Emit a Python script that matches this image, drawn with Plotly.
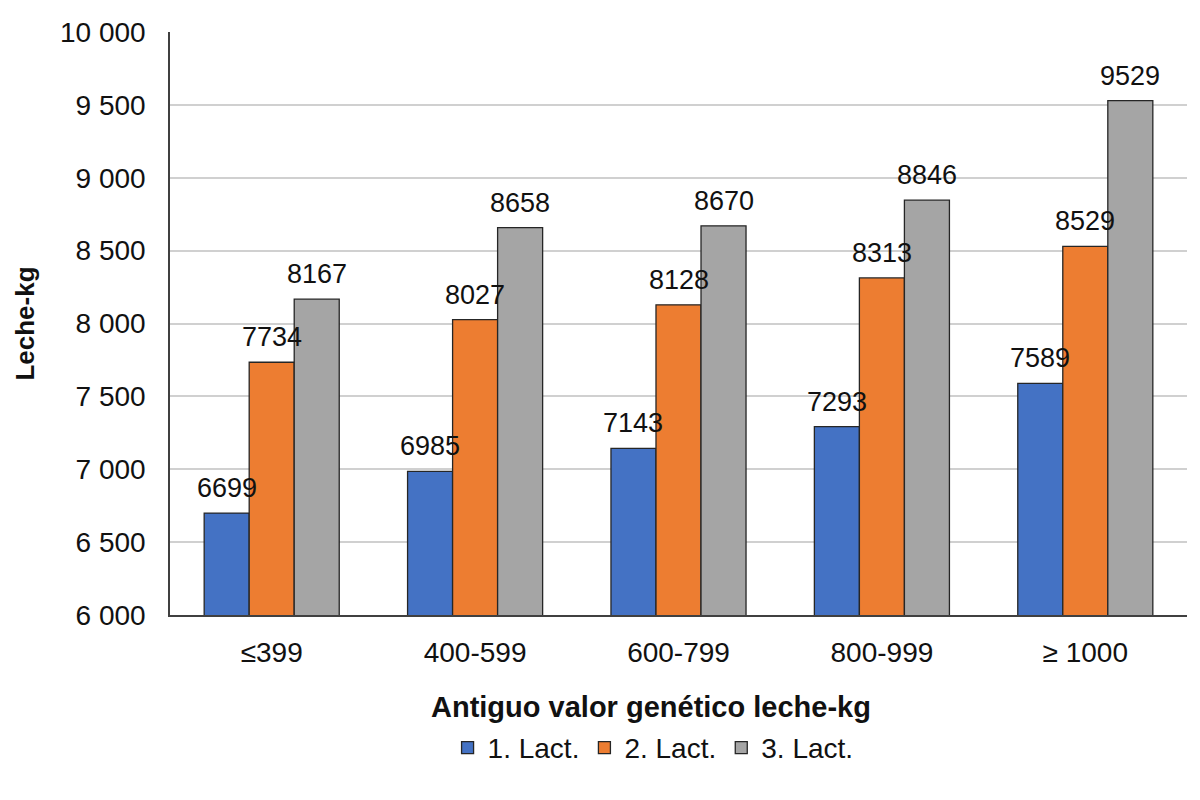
import plotly.graph_objects as go

categories = ["≤399", "400-599", "600-799", "800-999", "≥ 1000"]
lact1 = [6699, 6985, 7143, 7293, 7589]
lact2 = [7734, 8027, 8128, 8313, 8529]
lact3 = [8167, 8658, 8670, 8846, 9529]
series_names = ["1. Lact.", "2. Lact.", "3. Lact."]
colors = ["#4472C4", "#ED7D31", "#A5A5A5"]
y_ticks = [6000, 6500, 7000, 7500, 8000, 8500, 9000, 9500, 10000]
y_ticktext = ["6 000", "6 500", "7 000", "7 500", "8 000", "8 500", "9 000", "9 500", "10 000"]
x_title = "Antiguo valor genético leche-kg"
y_title = "Leche-kg"

FONT = "Liberation Sans, Arial"
L, R, T, B = 170, 13, 32, 185
W, H = 1200, 800
bargap = 0.336
cat_px = (W - L - R) / len(categories)
bar_px = cat_px * (1 - bargap) / 3

fig = go.Figure()
all_series = [lact1, lact2, lact3]
for name, vals, col in zip(series_names, all_series, colors):
    fig.add_trace(go.Bar(
        x=categories, y=vals, name=name,
        marker=dict(color=col, line=dict(color="#262626", width=1.3)),
    ))

# data labels centred over each bar
for i, vals in enumerate(all_series):
    for c, v in zip(categories, vals):
        fig.add_annotation(
            x=c, y=v, xref="x", yref="y", text=str(v), showarrow=False,
            xanchor="center", yanchor="bottom",
            xshift=(i - 1) * bar_px, yshift=8,
            font=dict(size=27, color="#111111", family=FONT),
        )

# x-axis title (slightly left of plot centre, as in the reference)
fig.add_annotation(
    x=0.473, y=-0.158, xref="paper", yref="paper", text=f"<b>{x_title}</b>",
    showarrow=False, xanchor="center", yanchor="middle",
    font=dict(size=29, color="#111111", family=FONT),
)

fig.update_layout(
    width=W, height=H,
    margin=dict(l=L, r=R, t=T, b=B, autoexpand=False),
    paper_bgcolor="white", plot_bgcolor="white",
    barmode="group", bargap=bargap, bargroupgap=0,
    font=dict(family=FONT, color="#111111"),
    xaxis=dict(
        tickfont=dict(size=28),
        showline=True, linecolor="#404040", linewidth=1.5,
        ticks="", ticklabelstandoff=12, automargin=False,
    ),
    yaxis=dict(
        range=[6000, 10000], tickvals=y_ticks, ticktext=y_ticktext,
        tickfont=dict(size=28),
        showgrid=True, gridcolor="#d0d0d0", gridwidth=1.5,
        showline=True, linecolor="#404040", linewidth=1.5,
        ticks="", ticklabelstandoff=17, automargin=False,
        title=dict(text=f"<b>{y_title}</b>", font=dict(size=26), standoff=18),
        zeroline=False,
    ),
    legend=dict(
        orientation="h", x=0.475, xanchor="center", y=-0.185, yanchor="top",
        font=dict(size=28), traceorder="normal",
        itemwidth=30,
    ),
)

fig.write_html("out.html")
